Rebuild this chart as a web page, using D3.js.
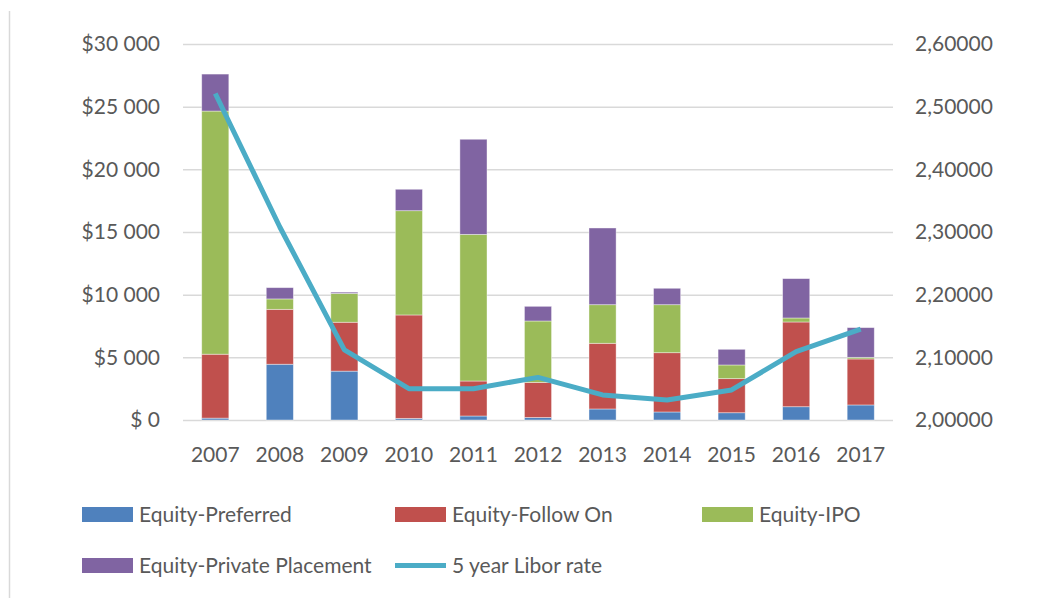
<!DOCTYPE html>
<html>
<head>
<meta charset="utf-8">
<script src="https://cdn.jsdelivr.net/npm/d3@7"></script>
<style>
  body { margin: 0; background: #fff; }
  text { font-family: Lato, "Open Sans", sans-serif; fill: #595959; }
</style>
</head>
<body>
<div id="chart"></div>
<script>
// DATA
var years = ["2007", "2008", "2009", "2010", "2011", "2012", "2013", "2014", "2015", "2016", "2017"];
var preferred = [150, 4450, 3900, 130, 320, 200, 880, 640, 580, 1060, 1200];
var followOn = [5100, 4380, 3900, 8250, 2790, 2800, 5240, 4730, 2720, 6760, 3670];
var ipo = [19400, 830, 2300, 8320, 11700, 4900, 3080, 3830, 1090, 320, 130];
var privatePlacement = [2950, 900, 100, 1710, 7590, 1170, 6120, 1310, 1250, 3140, 2370];
var libor = [2.521, 2.308, 2.112, 2.050, 2.050, 2.068, 2.040, 2.032, 2.048, 2.109, 2.145];

var seriesNames = ["Equity-Preferred", "Equity-Follow On", "Equity-IPO", "Equity-Private Placement"];
var lineName = "5 year Libor rate";
var leftTicks = [0, 5000, 10000, 15000, 20000, 25000, 30000];
var leftTickLabels = ["$ 0", "$5 000", "$10 000", "$15 000", "$20 000", "$25 000", "$30 000"];
var rightTicks = [2.0, 2.1, 2.2, 2.3, 2.4, 2.5, 2.6];
var rightTickLabels = ["2,00000", "2,10000", "2,20000", "2,30000", "2,40000", "2,50000", "2,60000"];

var colors = ["#4f81bd", "#c0504d", "#9bbb59", "#8064a2"];
var lineColor = "#4bacc6";

// SET UP
var width = 1056, height = 598;
var plot = {left: 183, right: 893, top: 44, bottom: 420};

var svg = d3.select("#chart").append("svg")
    .attr("width", width)
    .attr("height", height);

// thin frame line on the left edge
svg.append("line")
    .attr("x1", 9.5).attr("x2", 9.5)
    .attr("y1", 11).attr("y2", height)
    .attr("stroke", "#d9d9d9")
    .attr("stroke-width", 1.5);

// SCALES
var x = d3.scaleBand()
    .domain(years)
    .range([plot.left, plot.right])
    .paddingInner(0.58)
    .paddingOuter(0.29);

var yLeft = d3.scaleLinear().domain([0, 30000]).range([plot.bottom, plot.top]);
var yRight = d3.scaleLinear().domain([2.0, 2.6]).range([plot.bottom, plot.top]);

// AXES
// Left axis with gridlines
var leftAxis = svg.append("g")
    .attr("transform", "translate(" + plot.left + ",0)")
    .call(d3.axisLeft(yLeft)
        .tickValues(leftTicks)
        .tickSize(-(plot.right - plot.left))
        .tickPadding(23)
        .tickFormat(function(d, i) { return leftTickLabels[i]; }));
leftAxis.select(".domain").remove();
leftAxis.selectAll(".tick line").attr("stroke", "#d9d9d9").attr("stroke-width", 1.5);
leftAxis.selectAll("text").attr("font-size", "21px").attr("fill", "#595959");

// Right axis
var rightAxis = svg.append("g")
    .attr("transform", "translate(" + plot.right + ",0)")
    .call(d3.axisRight(yRight)
        .tickValues(rightTicks)
        .tickSize(0)
        .tickPadding(22)
        .tickFormat(function(d, i) { return rightTickLabels[i]; }));
rightAxis.select(".domain").remove();
rightAxis.selectAll("text").attr("font-size", "21px").attr("fill", "#595959");

// Bottom axis
var bottomAxis = svg.append("g")
    .attr("transform", "translate(0," + plot.bottom + ")")
    .call(d3.axisBottom(x).tickSize(0).tickPadding(27));
bottomAxis.select(".domain").remove();
bottomAxis.selectAll("text").attr("font-size", "21px").attr("fill", "#595959");

// BARS
var table = years.map(function(y, i) {
    return {year: y, p0: preferred[i], p1: followOn[i], p2: ipo[i], p3: privatePlacement[i]};
});
var stack = d3.stack().keys(["p0", "p1", "p2", "p3"])(table);

svg.append("g")
    .selectAll("g")
    .data(stack)
    .join("g")
    .attr("fill", function(d, i) { return colors[i]; })
    .selectAll("rect")
    .data(function(d) { return d; })
    .join("rect")
    .attr("x", function(d) { return x(d.data.year); })
    .attr("y", function(d) { return yLeft(d[1]); })
    .attr("width", x.bandwidth())
    .attr("height", function(d) { return yLeft(d[0]) - yLeft(d[1]); })
    .attr("stroke", "#ffffff")
    .attr("stroke-opacity", 0.5)
    .attr("stroke-width", 0.8);

// LINE
var line = d3.line()
    .x(function(d, i) { return x(years[i]) + x.bandwidth() / 2; })
    .y(function(d) { return yRight(d); });

svg.append("path")
    .datum(libor)
    .attr("d", line)
    .attr("fill", "none")
    .attr("stroke", lineColor)
    .attr("stroke-width", 5)
    .attr("stroke-linejoin", "round");

// LEGEND
var legendItems = [
    {name: seriesNames[0], color: colors[0], type: "rect", x: 82, y: 514.5},
    {name: seriesNames[1], color: colors[1], type: "rect", x: 395, y: 514.5},
    {name: seriesNames[2], color: colors[2], type: "rect", x: 702, y: 514.5},
    {name: seriesNames[3], color: colors[3], type: "rect", x: 82, y: 565.5},
    {name: lineName, color: lineColor, type: "line", x: 395, y: 565.5}
];

var legend = svg.append("g")
    .selectAll("g")
    .data(legendItems)
    .join("g")
    .attr("transform", function(d) { return "translate(" + d.x + "," + d.y + ")"; });

legend.filter(function(d) { return d.type === "rect"; })
    .append("rect")
    .attr("x", 0).attr("y", -7.5)
    .attr("width", 51).attr("height", 15)
    .attr("fill", function(d) { return d.color; });

legend.filter(function(d) { return d.type === "line"; })
    .append("line")
    .attr("x1", 0).attr("x2", 51)
    .attr("y1", 0).attr("y2", 0)
    .attr("stroke", function(d) { return d.color; })
    .attr("stroke-width", 5);

legend.append("text")
    .attr("x", 57)
    .attr("dy", "0.35em")
    .attr("font-size", "21px")
    .text(function(d) { return d.name; });
</script>
</body>
</html>
